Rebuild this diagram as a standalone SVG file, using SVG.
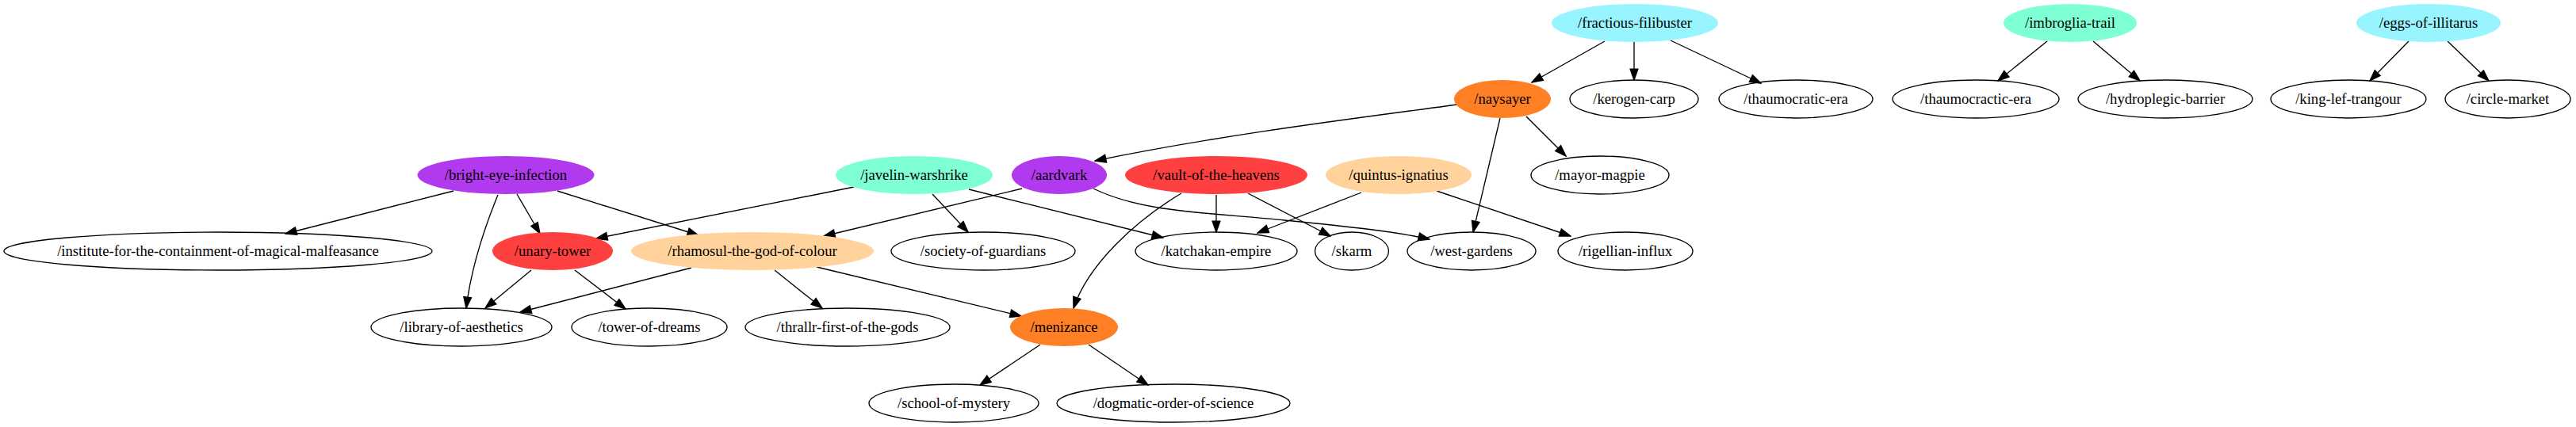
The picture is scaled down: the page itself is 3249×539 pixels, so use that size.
<svg xmlns="http://www.w3.org/2000/svg" width="3249" height="539" viewBox="0 0 3249 539">
<style>
.n ellipse{stroke:#000;stroke-width:1.33;fill:none}
.f ellipse{stroke:none}
text{font-family:"Liberation Serif","Times New Roman",serif;font-size:18.67px;text-anchor:middle;fill:#000}
#edges path{fill:none;stroke:#000;stroke-width:1.33;marker-end:url(#ah)}
.pu{fill:#B23AEE}.rd{fill:#FF4040}.or{fill:#FF7F24}.pe{fill:#FFD39B}.aq{fill:#7FFFD4}.cy{fill:#98F5FF}
</style>
<defs>
<marker id="ah" markerUnits="userSpaceOnUse" markerWidth="16" markerHeight="12" viewBox="-1 -1 15.33 11.33" refX="13.33" refY="4.67" orient="auto">
<path d="M0,0 L13.33,4.67 L0,9.33 Z" fill="#000" stroke="#000" stroke-width="1.33"/>
</marker>
</defs>
<rect width="3249" height="539" fill="#fff"/>
<g id="edges">
<path d="M2024,52 L1932,104"/>
<path d="M2061,53 L2061,101"/>
<path d="M2107,51 L2221,105"/>
<path d="M2582,52 L2520,102"/>
<path d="M2640,52 L2699,102"/>
<path d="M3038,52 L2989,102"/>
<path d="M3087,52 L3139,102"/>
<path d="M1838,132 C1720,148 1540,170 1381,203"/>
<path d="M1892,149 L1858,293"/>
<path d="M1925,147 L1975,197"/>
<path d="M572,241 L360,295"/>
<path d="M628,246 C610,290 594,340 588,389"/>
<path d="M652,245 L681,295"/>
<path d="M703,241 L881,297"/>
<path d="M1077,236 L752,301"/>
<path d="M1176,245 L1221,293"/>
<path d="M1222,239 L1467,300"/>
<path d="M1289,238 L1039,298"/>
<path d="M1379,238 C1440,268 1520,268 1620,278 C1700,286 1760,292 1803,302"/>
<path d="M1490,244 C1430,280 1372,335 1354,389"/>
<path d="M1534,246 L1534,293"/>
<path d="M1574,244 L1678,298"/>
<path d="M1717,243 L1586,294"/>
<path d="M1812,241 L1981,298"/>
<path d="M670,341 L612,389"/>
<path d="M725,341 L789,390"/>
<path d="M872,338 L656,394"/>
<path d="M977,341 L1037,389"/>
<path d="M1030,337 L1288,399"/>
<path d="M1312,435 L1236,486"/>
<path d="M1373,435 L1448,486"/>
</g>
<g id="fractious-filibuster" class="f"><ellipse class="cy" cx="2062" cy="29" rx="105" ry="24"/><text x="2062" y="35">/fractious-filibuster</text></g>
<g id="imbroglia-trail" class="f"><ellipse class="aq" cx="2611" cy="29" rx="84" ry="24"/><text x="2611" y="35">/imbroglia-trail</text></g>
<g id="eggs-of-illitarus" class="f"><ellipse class="cy" cx="3063" cy="29" rx="91" ry="24"/><text x="3063" y="35">/eggs-of-illitarus</text></g>
<g id="naysayer" class="f"><ellipse class="or" cx="1895" cy="125" rx="61" ry="24"/><text x="1895" y="131">/naysayer</text></g>
<g id="kerogen-carp" class="n"><ellipse cx="2061" cy="125" rx="81" ry="24"/><text x="2061" y="131">/kerogen-carp</text></g>
<g id="thaumocratic-era" class="n"><ellipse cx="2265" cy="125" rx="97" ry="24"/><text x="2265" y="131">/thaumocratic-era</text></g>
<g id="thaumocractic-era" class="n"><ellipse cx="2492" cy="125" rx="105" ry="24"/><text x="2492" y="131">/thaumocractic-era</text></g>
<g id="hydroplegic-barrier" class="n"><ellipse cx="2731" cy="125" rx="110" ry="24"/><text x="2731" y="131">/hydroplegic-barrier</text></g>
<g id="king-lef-trangour" class="n"><ellipse cx="2962" cy="125" rx="98" ry="24"/><text x="2962" y="131">/king-lef-trangour</text></g>
<g id="circle-market" class="n"><ellipse cx="3163" cy="125" rx="79" ry="24"/><text x="3163" y="131">/circle-market</text></g>
<g id="bright-eye-infection" class="f"><ellipse class="pu" cx="638" cy="221" rx="111.5" ry="24"/><text x="638" y="227">/bright-eye-infection</text></g>
<g id="javelin-warshrike" class="f"><ellipse class="aq" cx="1153" cy="221" rx="99" ry="24"/><text x="1153" y="227">/javelin-warshrike</text></g>
<g id="aardvark" class="f"><ellipse class="pu" cx="1336" cy="221" rx="60" ry="24"/><text x="1336" y="227">/aardvark</text></g>
<g id="vault-of-the-heavens" class="f"><ellipse class="rd" cx="1534" cy="221" rx="115" ry="24"/><text x="1534" y="227">/vault-of-the-heavens</text></g>
<g id="quintus-ignatius" class="f"><ellipse class="pe" cx="1764" cy="221" rx="92" ry="24"/><text x="1764" y="227">/quintus-ignatius</text></g>
<g id="mayor-magpie" class="n"><ellipse cx="2018" cy="221" rx="87" ry="24"/><text x="2018" y="227">/mayor-magpie</text></g>
<g id="institute-for-the-containment-of-magical-malfeasance" class="n"><ellipse cx="275" cy="317" rx="270" ry="24"/><text x="275" y="323">/institute-for-the-containment-of-magical-malfeasance</text></g>
<g id="unary-tower" class="f"><ellipse class="rd" cx="697" cy="317" rx="76" ry="24"/><text x="697" y="323">/unary-tower</text></g>
<g id="rhamosul-the-god-of-colour" class="f"><ellipse class="pe" cx="949" cy="317" rx="153" ry="24"/><text x="949" y="323">/rhamosul-the-god-of-colour</text></g>
<g id="society-of-guardians" class="n"><ellipse cx="1240" cy="317" rx="116" ry="24"/><text x="1240" y="323">/society-of-guardians</text></g>
<g id="katchakan-empire" class="n"><ellipse cx="1534" cy="317" rx="102" ry="24"/><text x="1534" y="323">/katchakan-empire</text></g>
<g id="skarm" class="n"><ellipse cx="1705" cy="317" rx="46.5" ry="24"/><text x="1705" y="323">/skarm</text></g>
<g id="west-gardens" class="n"><ellipse cx="1856" cy="317" rx="81" ry="24"/><text x="1856" y="323">/west-gardens</text></g>
<g id="rigellian-influx" class="n"><ellipse cx="2050" cy="317" rx="85" ry="24"/><text x="2050" y="323">/rigellian-influx</text></g>
<g id="library-of-aesthetics" class="n"><ellipse cx="582" cy="413" rx="114" ry="24"/><text x="582" y="419">/library-of-aesthetics</text></g>
<g id="tower-of-dreams" class="n"><ellipse cx="819" cy="413" rx="98" ry="24"/><text x="819" y="419">/tower-of-dreams</text></g>
<g id="thrallr-first-of-the-gods" class="n"><ellipse cx="1069" cy="413" rx="129" ry="24"/><text x="1069" y="419">/thrallr-first-of-the-gods</text></g>
<g id="menizance" class="f"><ellipse class="or" cx="1342" cy="413" rx="68" ry="24"/><text x="1342" y="419">/menizance</text></g>
<g id="school-of-mystery" class="n"><ellipse cx="1203" cy="509" rx="107" ry="24"/><text x="1203" y="515">/school-of-mystery</text></g>
<g id="dogmatic-order-of-science" class="n"><ellipse cx="1480" cy="509" rx="147" ry="24"/><text x="1480" y="515">/dogmatic-order-of-science</text></g>
</svg>
